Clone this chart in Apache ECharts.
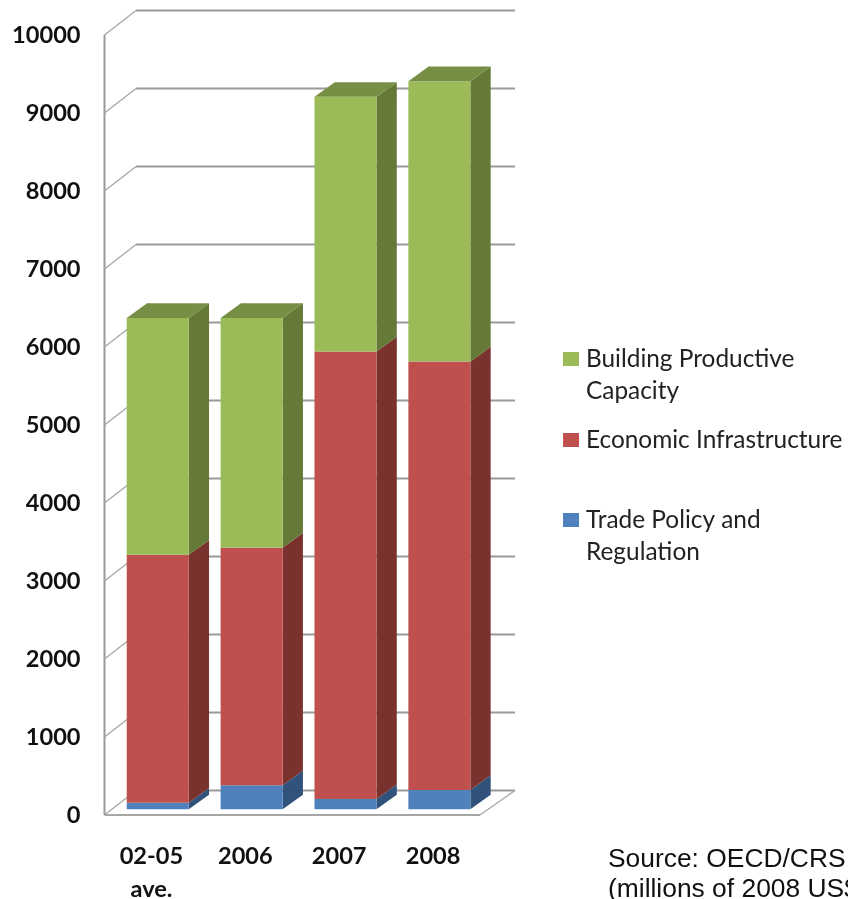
<!DOCTYPE html>
<html>
<head>
<meta charset="utf-8">
<style>html,body{margin:0;padding:0;background:#fff;overflow:hidden}#c{width:848px;height:899px}</style>
<script src="https://cdn.jsdelivr.net/npm/echarts@6/dist/echarts.min.js"></script>
</head>
<body>
<div id="c"></div>
<script>
const categories = ['02-05\nave.', '2006', '2007', '2008'];
const tradePolicy = [85, 308, 132, 248];
const infrastructure = [3178, 3046, 5738, 5494];
const productive = [3037, 2946, 3265, 3593];
const yTicks = [0, 1000, 2000, 3000, 4000, 5000, 6000, 7000, 8000, 9000, 10000];
const sourceLines = 'Source: OECD/CRS\n(millions of 2008 US$)';

const WALL_DX = 31.5, WALL_DX_RIGHT = 35, WALL_DY = -24.5;   // oblique depth of the chart box
const BAR_DX = 6.3, BAR_DY = -5.7;       // bars stand slightly behind the front plane
const BAR_W = 62, DEPTH_DX = 20.3, DEPTH_DY = -14.6;
const WALL = '#9a9a9a';

function stackRows(own, below) {
  return own.map((v, i) => {
    const base = below.reduce((s, arr) => s + arr[i], 0);
    return [i, base, base + v];
  });
}

function barRenderer(front, side, top, withTop) {
  return function (params, api) {
    const a = api.coord([api.value(0), api.value(1)]);
    const b = api.coord([api.value(0), api.value(2)]);
    const x0 = a[0] + BAR_DX - BAR_W / 2, x1 = x0 + BAR_W;
    const y0 = a[1] + BAR_DY, y1 = b[1] + BAR_DY;
    const children = [
      { type: 'polygon', shape: { points: [[x1, y0], [x1 + DEPTH_DX, y0 + DEPTH_DY], [x1 + DEPTH_DX, y1 + DEPTH_DY], [x1, y1]] }, style: { fill: side } },
      { type: 'rect', shape: { x: x0, y: y1, width: BAR_W, height: y0 - y1 }, style: { fill: front } }
    ];
    if (withTop) {
      children.push({ type: 'polygon', shape: { points: [[x0, y1], [x1, y1], [x1 + DEPTH_DX, y1 + DEPTH_DY], [x0 + DEPTH_DX, y1 + DEPTH_DY]] }, style: { fill: top } });
    }
    return { type: 'group', children };
  };
}

function wallRenderer(params, api) {
  const cs = params.coordSys;
  const v = api.value(0);
  const y = api.coord([0, v])[1];
  const lx = cs.x, rx = cs.x + cs.width;
  const line = (x1, y1, x2, y2, w, c) => ({ type: 'line', shape: { x1, y1, x2, y2 }, style: { stroke: c, lineWidth: w } });
  const kids = [
    line(lx + WALL_DX, y + WALL_DY, rx + WALL_DX_RIGHT, y + WALL_DY, 2, WALL),
    line(lx, y, lx + WALL_DX, y + WALL_DY, 1.5, '#ababab')
  ];
  if (v === yTicks[0]) {
    kids.push(line(lx, y, rx, y, 2, '#a6a6a6'));
    kids.push(line(rx, y, rx + WALL_DX_RIGHT, y + WALL_DY, 1.5, '#ababab'));
    kids.push(line(lx, y, lx, api.coord([0, yTicks[yTicks.length - 1]])[1], 2, WALL));
  }
  return { type: 'group', children: kids };
}

const legendText = { fontFamily: 'Lato', fontSize: 24.4, color: '#222', lineHeight: 32, padding: [0, 0, 0, 2] };
function legendAt(name, top, tall) {
  return {
    data: [name], left: 563, top, padding: 0, orient: 'vertical',
    itemWidth: 16, itemHeight: tall ? 46 : 14, selectedMode: false,
    icon: tall ? 'path://M0 0L16 0L16 14L0 14Z M0 46L16 46' : 'rect',
    textStyle: legendText
  };
}

const chart = echarts.init(document.getElementById('c'), null, { renderer: 'canvas' });
chart.setOption({
  animation: false,
  backgroundColor: '#fff',
  title: {
    text: sourceLines, left: 608, top: 845, padding: 0,
    textStyle: { fontFamily: 'Liberation Sans', fontWeight: 'normal', fontSize: 26.4, lineHeight: 30, color: '#111' }
  },
  legend: [
    legendAt('Building Productive\nCapacity', 343, true),
    legendAt('Economic Infrastructure', 424, false),
    legendAt('Trade Policy and\nRegulation', 504, true)
  ],
  grid: { left: 104.5, right: 368, top: 35, bottom: 84, outerBoundsMode: 'none' },
  xAxis: {
    type: 'category', data: categories,
    axisLine: { show: false }, axisTick: { show: false }, splitLine: { show: false },
    axisLabel: { fontFamily: 'Lato', fontWeight: 'bold', fontSize: 23.6, color: '#111', margin: 25, lineHeight: 33, interval: 0 }
  },
  yAxis: {
    type: 'value', min: 0, max: 10000, interval: 1000,
    axisLine: { show: false }, axisTick: { show: false }, splitLine: { show: false },
    axisLabel: { fontFamily: 'Lato', fontWeight: 'bold', fontSize: 23.6, color: '#111', margin: 24, formatter: v => String(v) }
  },
  series: [
    { type: 'custom', name: 'walls', z: 1, silent: true, renderItem: wallRenderer, data: yTicks.map(v => [v]), encode: { y: 0 } },
    { type: 'custom', name: 'Trade Policy and\nRegulation', z: 2, itemStyle: { color: '#4F81BD' }, encode: { x: 0, y: [1, 2] },
      renderItem: barRenderer('#4F81BD', '#31527A', '#3F6797', false), data: stackRows(tradePolicy, []) },
    { type: 'custom', name: 'Economic Infrastructure', z: 2, itemStyle: { color: '#C0504D' }, encode: { x: 0, y: [1, 2] },
      renderItem: barRenderer('#C0504D', '#7A322F', '#9A403E', false), data: stackRows(infrastructure, [tradePolicy]) },
    { type: 'custom', name: 'Building Productive\nCapacity', z: 2, itemStyle: { color: '#9BBB59' }, encode: { x: 0, y: [1, 2] },
      renderItem: barRenderer('#9BBB59', '#647A36', '#768F45', true), data: stackRows(productive, [tradePolicy, infrastructure]) }
  ]
});
</script>
</body>
</html>
